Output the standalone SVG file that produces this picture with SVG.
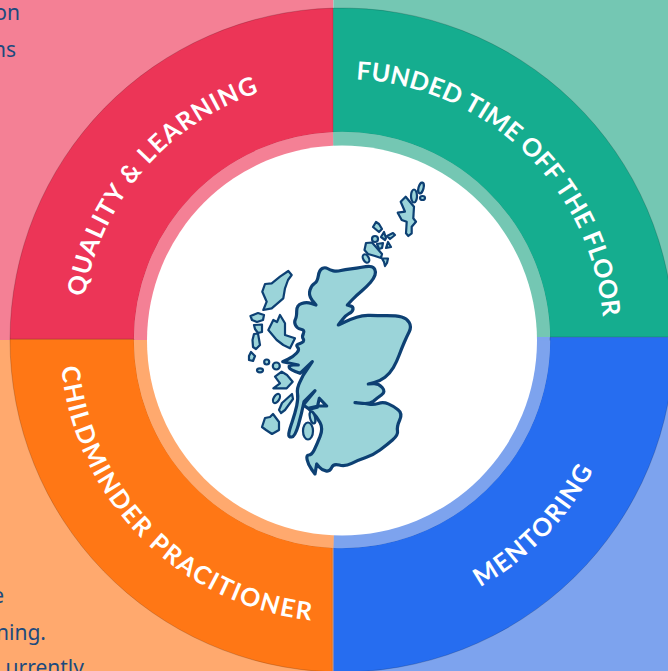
<svg xmlns="http://www.w3.org/2000/svg" width="668" height="671" viewBox="0 0 668 671">
<style>
.label{font-family:"Lato","Noto Sans",sans-serif;font-weight:700;font-size:25px;fill:#fff;letter-spacing:1.2px}
.body{font-family:"Noto Sans","Open Sans",sans-serif;font-size:21px;fill:#1b4a7e;text-anchor:end}
.sector{stroke:#000;stroke-opacity:.28;stroke-width:.6}
.ring{fill:none;stroke-width:13.4}
.land{fill:#9bd4d9;stroke:#0b3f73;stroke-width:2.2;stroke-linejoin:round}
</style>
<defs>
<path id="p1" d="M84.6 297A261 261 0 0 1 342 79"/>
<path id="p2" d="M356 79.4A261 261 0 0 1 603 360"/>
<path id="p3" d="M480 587A283 283 0 0 0 625 340"/>
<path id="p4" d="M61.3 367A282 282 0 0 0 342 622"/>
<filter id="soft" x="-5%" y="-5%" width="110%" height="110%"><feGaussianBlur stdDeviation=".45"/></filter>
</defs>
<g id="quality-learning">
<rect width="333.4" height="340" fill="#f48095"/>
<path class="sector" fill="#ec3557" d="M333.3 8.1A332 332 0 0 0 10 339.3H134A208 208 0 0 1 333.3 132.2Z"/>
<path class="ring" stroke="#f48095" d="M333.4 138.7A201.5 201.5 0 0 0 140.5 340"/>
<text class="label"><textPath href="#p1">QUALITY &amp; LEARNING</textPath></text>
<text class="body" x="20" y="20">on</text>
<text class="body" x="16" y="57">ns</text>
</g>
<g id="funded-time">
<rect x="333.4" width="335" height="340" fill="#74c7b3"/>
<path class="sector" fill="#15ad8f" d="M333.3 8.1A332 332 0 0 1 674 337.3H550A208 208 0 0 0 333.3 132.2Z"/>
<path class="ring" stroke="#74c7b3" d="M333.4 138.7A201.5 201.5 0 0 1 543.500 340.6"/>
<text class="label" style="letter-spacing:.25px"><textPath href="#p2">FUNDED TIME OFF THE FLOOR</textPath></text>
</g>
<g id="mentoring">
<rect x="333.4" y="337" width="335" height="334" fill="#7da3ee"/>
<path class="sector" fill="#266df0" d="M674 337.3A332 332 0 0 1 332.3 671.900V547.800A208 208 0 0 0 550 337.3Z"/>
<path class="ring" stroke="#7da3ee" d="M543.500 340.6A201.5 201.5 0 0 1 333.4 541.3"/>
<text class="label" style="letter-spacing:1.5px"><textPath href="#p3">MENTORING</textPath></text>
</g>
<g id="childminder">
<rect y="340" width="333.4" height="331" fill="#ffa96e"/>
<path class="sector" fill="#ff7715" d="M10 339.3A332 332 0 0 0 332.3 671.900V547.800A208 208 0 0 1 134 339.3Z"/>
<path class="ring" stroke="#ffa96e" d="M140.5 340A201.5 201.5 0 0 0 333.4 541.3"/>
<text class="label" style="letter-spacing:1.75px"><textPath href="#p4">CHILDMINDER PRACITIONER</textPath></text>
<text class="body" x="4" y="603">e</text>
<text class="body" x="46" y="640">ning.</text>
<text class="body" x="84" y="675">urrently</text>
</g>
<circle id="centre" cx="342" cy="340.5" r="195" fill="#fff"/>
<g id="scotland" filter="url(#soft)">
<path class="land" style="stroke-width:3.2" d="M322.2 268.5Q325 267 327.5 268.5Q330 270 333.4 270.9Q336.7 271.7 340.900 270.5Q345 269.3 350.900 268.800Q356.7 268.3 361.7 267.3Q366.7 266.3 370 266.5Q373.3 266.7 374.7 269.2Q376 271.7 375 275Q374 278.3 370.4 282.5Q366.7 286.7 361.7 290.900Q356.7 295 352 300L347.3 305L350.3 305.900Q353.3 306.7 353 309.2Q352.7 311.7 348.900 313.7Q345 315.7 341.7 320.4L338.3 325L344.2 322.2Q350 319.3 356.7 317.2Q363.3 315 370 315.4Q376.7 315.7 386.7 315.7Q396.7 315.7 401.7 317Q406.7 318.3 409.2 322.5Q411.7 326.7 409.2 331.7Q406.7 336.7 404.2 342.5Q401.7 348.3 399.2 355Q396.7 361.7 393.4 367.5Q390 373.3 385 377.2Q380 381 374.2 382.5L368.3 384L373.3 383.7Q378.3 383.3 382.2 387.5Q386 391.7 381.4 395Q376.7 398.3 373.4 401.2Q370 404 362.5 403.4L355 402.7L360 403Q365 403.3 369.2 404.2Q373.3 405 378.3 403.4Q383.3 401.7 388.3 403.900Q393.3 406 398 409.7Q402.7 413.3 399.7 420Q396.7 426.7 397.5 430.900Q398.3 435 392.5 440Q386.7 445 380 450Q373.3 455 365.800 457.5Q358.3 460 351.7 463.4Q345 466.7 339.2 465Q333.3 463.3 331.7 467.5Q330 471.7 325.900 470.900Q321.7 470 319.2 467L316.7 464L315 474L311.7 469.5Q308.3 465 307.2 460Q306 455 308.900 455Q311.7 455 314.2 450Q316.7 445 320 436.7Q323.3 428.3 320 422.5Q316.7 416.7 312.5 412.5L308.3 408.3L318.3 406L326.7 406L319.3 398.3L317.3 407.3L309.3 409.3L303.3 405L315 390.7L304 401.7Q301.7 413.3 298.4 425Q295 436.7 291.7 437Q288.3 437.3 288.800 433.7Q289.3 430 292.2 421.7Q295 413.3 296.7 405.800Q298.3 398.3 297.5 393.3Q296.7 388.3 300 381.7L303.3 375L312.3 361.7L300 373.3Q290 370 289.2 367.5Q288.3 365 293.3 365L298.3 365L282.7 361.7L288 359.2Q293.3 356.7 296.7 353Q300 349.3 297.5 347.2Q295 345 300 343.4Q305 341.7 303.4 339.2Q301.7 336.7 303.4 333.4Q305 330 300.900 329.2Q296.7 328.3 295.4 325Q294 321.7 295.4 319.2Q296.7 316.7 296.7 310.900Q296.7 305 301.7 303.4Q306.7 301.7 311.4 303.4L316 305L312 300Q308.3 295 310 290Q311.7 285 314.5 283.4Q317.3 281.7 318.3 275.900Q319.3 270 322.2 268.5Z"/>
<path class="land" d="M288.3 271L291.7 275L288 280L285 288.3L283.3 298.3L271.7 308.3L263.3 310L266.7 301.7L262.3 291.7L265 284L271.7 283.3L280 276.7Z"/>
<path class="land" d="M280 315L285 323.3L285 335L295 338.3L290 348.3L283.3 345L276.7 340L268.3 330L271.7 323.3L273.3 320L277 322Z"/>
<path class="land" d="M250.5 316L258 313L264 315L263 320L257 322L252 320Z"/>
<path class="land" d="M254 325L262 324.5L262 332L258 333L255 329Z"/>
<path class="land" d="M254 334L258 333.5L260 345L256 349L253 347L252.5 340Z"/>
<path class="land" d="M251 352L255 356L253 361L249 360L249 356Z"/>
<ellipse class="land" cx="266.7" cy="362" rx="2.5" ry="2.5"/>
<ellipse class="land" cx="260" cy="370.3" rx="3" ry="2"/>
<ellipse class="land" cx="276.3" cy="366" rx="3.5" ry="3.5"/>
<path class="land" d="M281.7 371.7L287 375L292.7 381.7L286.7 388.3L273.3 388.3L280 383.3L275 376.7Z"/>
<ellipse class="land" cx="276.5" cy="398.5" rx="2.800" ry="5" transform="rotate(30 276.5 398.5)"/>
<path class="land" d="M292 394L293 399L285 410L281 413L279 410L282 403Z"/>
<path class="land" d="M273 414L279 422L279 430L272 434L266 430L262 427L265 418L270 417Z"/>
<ellipse class="land" cx="308" cy="431" rx="5" ry="8.5"/>
<ellipse class="land" cx="312.5" cy="417.6" rx="2.5" ry="6" transform="rotate(-15 312.5 417.6)"/>
<path class="land" d="M366 243L372 242.500L376 247L382 254L381 258L375 256L368 254L364.500 250Z"/>
<ellipse class="land" cx="366" cy="258.500" rx="2.800" ry="4.500" transform="rotate(-30 366 258.500)"/>
<path class="land" d="M382 258.500L388 258.500L387 263L385 266L384 262Z"/>
<circle class="land" cx="375" cy="239" r="3"/>
<path class="land" d="M384 232L386 238L385 240L381 237Z"/>
<path class="land" d="M376 222L379 224L382 229L379 232L373 227Z"/>
<path class="land" d="M387 236L393 233L395 235L390 239Z"/>
<path class="land" d="M377 244L383 243L382 248L379 249Z"/>
<path class="land" d="M388 242L391 247L386 248Z"/>
<path class="land" d="M405.700 196.700L414 206.700L413.300 218.300L416 221.700L411.700 226.700L411.700 233.300L408.300 236L406 233.300L406.700 221.700L401.700 220L397.700 212.700L405 211.700L400.700 201.700Z"/>
<ellipse class="land" cx="414" cy="196" rx="3" ry="6.500"/>
<ellipse class="land" cx="421" cy="188" rx="2.500" ry="5.500" transform="rotate(15 421 188)"/>
<ellipse class="land" cx="422.500" cy="198" rx="2.500" ry="2"/>
</g>
</svg>
